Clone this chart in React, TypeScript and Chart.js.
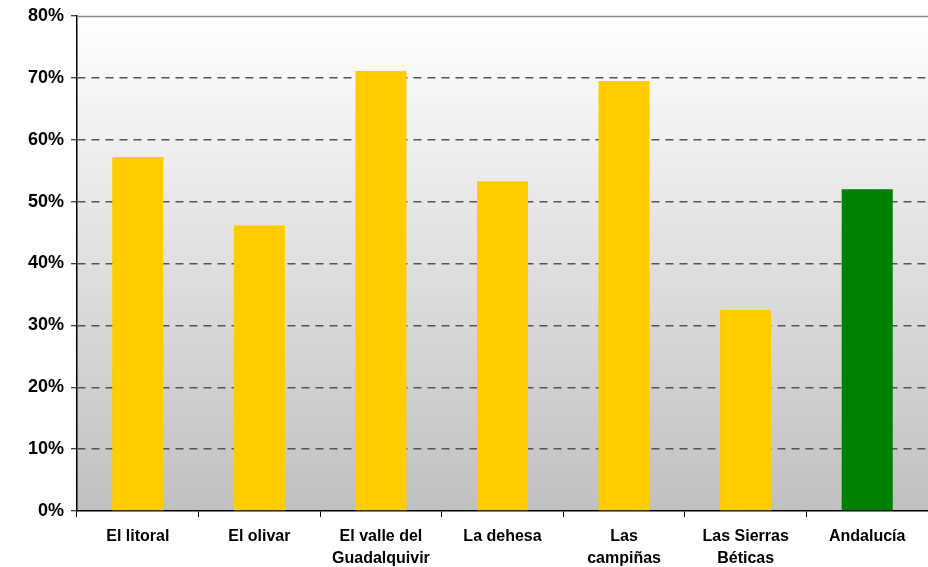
import React, { useEffect, useRef } from "react";
import { Chart, registerables } from "chart.js";

Chart.register(...registerables);

const categories: (string | string[])[] = [
  "El litoral",
  "El olivar",
  ["El valle del", "Guadalquivir"],
  "La dehesa",
  ["Las", "campiñas"],
  ["Las Sierras", "Béticas"],
  "Andalucía",
];
const values = [57.2, 46.2, 71.1, 53.3, 69.5, 32.5, 52.0];
const barColors = ["#FFCC00", "#FFCC00", "#FFCC00", "#FFCC00", "#FFCC00", "#FFCC00", "#008000"];
const yMin = 0;
const yMax = 80;
const yStep = 10;

const bgPlugin = {
  id: "plotBg",
  beforeDraw(chart: any) {
    const { ctx, chartArea } = chart;
    if (!chartArea) return;
    const { left, top, right, bottom } = chartArea;
    const g = ctx.createLinearGradient(0, top, 0, bottom);
    g.addColorStop(0, "#ffffff");
    g.addColorStop(1, "#c0c0c0");
    ctx.save();
    ctx.fillStyle = g;
    ctx.fillRect(left, top, right - left, bottom - top);
    ctx.restore();
  },
  beforeDatasetsDraw(chart: any) {
    const { ctx, chartArea, scales } = chart;
    const y = Math.round(scales.y.getPixelForValue(yMax)) + 0.5;
    ctx.save();
    ctx.strokeStyle = "#8a8a8a";
    ctx.lineWidth = 1.5;
    ctx.beginPath();
    ctx.moveTo(chartArea.left, y);
    ctx.lineTo(chartArea.right, y);
    ctx.stroke();
    ctx.restore();
  },
};

export default function App() {
  const ref = useRef<HTMLCanvasElement>(null);
  useEffect(() => {
    if (!ref.current) return;
    const chart = new Chart(ref.current, {
      type: "bar",
      data: {
        labels: categories,
        datasets: [
          {
            data: values,
            backgroundColor: barColors,
            borderWidth: 0,
            barPercentage: 0.42,
            categoryPercentage: 1,
          },
        ],
      },
      options: {
        animation: false,
        responsive: true,
        maintainAspectRatio: false,
        layout: { padding: { top: 14, right: 0, left: 0, bottom: 0 } },
        plugins: {
          legend: { display: false },
          tooltip: { enabled: false },
        },
        scales: {
          x: {
            afterFit: (s: any) => {
              s.height = 56;
            },
            grid: {
              display: true,
              drawOnChartArea: false,
              offset: true,
              tickLength: 6,
              tickColor: "#000",
              tickWidth: 1,
            },
            border: { display: true, color: "#000", width: 1.5 },
            ticks: {
              color: "#000",
              padding: 9,
              maxRotation: 0,
              autoSkip: false,
              font: { family: "'Liberation Sans', Arial, sans-serif", size: 16, weight: "bold", lineHeight: 1.375 },
            },
          },
          y: {
            min: yMin,
            max: yMax,
            afterFit: (s: any) => {
              s.width = 77;
            },
            grid: {
              color: (c: any) => (c.tick && (c.tick.value === yMax || c.tick.value === yMin) ? "rgba(0,0,0,0)" : "#555"),
              lineWidth: 1.5,
              tickLength: 6,
              tickColor: "#000",
              tickWidth: 1,
            },
            border: { display: true, color: "#000", width: 1.5, dash: [8, 6] },
            ticks: {
              stepSize: yStep,
              color: "#000",
              padding: 7,
              callback: (v: any) => v + "%",
              font: { family: "'Liberation Sans', Arial, sans-serif", size: 18, weight: "bold", lineHeight: 1 },
            },
          },
        },
      },
      plugins: [bgPlugin],
    });
    return () => chart.destroy();
  }, []);
  return (
    <div style={{ position: "fixed", left: 0, top: 0, width: 928, height: 567, background: "#fff" }}>
      <canvas ref={ref} />
    </div>
  );
}
